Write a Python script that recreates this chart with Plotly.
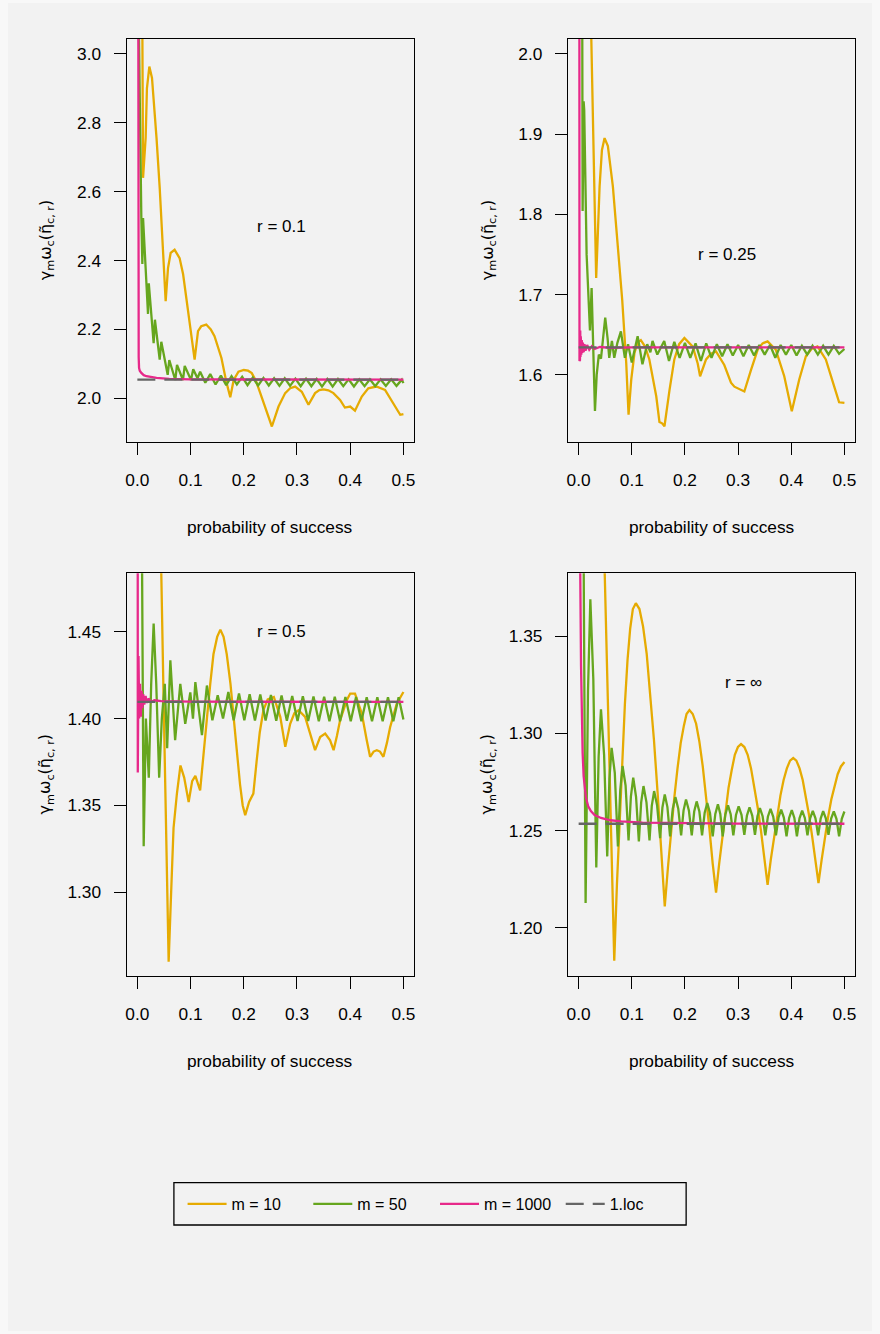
import plotly.graph_objects as go

FONT = "Liberation Sans, Arial, Helvetica, sans-serif"
TITLE_FONT = "DejaVu Sans, Liberation Sans, Arial, sans-serif"
BG = "#F2F2F2"
EDGE = "#F8F8F8"
W, H = 880, 1334

series_names = ["m = 10", "m = 50", "m = 1000", "1.loc"]
series_colors = ["#E6AB02", "#66A61E", "#E7298A", "#666666"]
panel_labels = ["r = 0.1", "r = 0.25", "r = 0.5", "r = \u221e"]

x_tick_vals = [0.0, 0.1, 0.2, 0.3, 0.4, 0.5]
y_tick_vals_r01 = [2.0, 2.2, 2.4, 2.6, 2.8, 3.0]
y_tick_vals_r025 = [1.6, 1.7, 1.8, 1.9, 2.0]
y_tick_vals_r05 = [1.30, 1.35, 1.40, 1.45]
y_tick_vals_rinf = [1.20, 1.25, 1.30, 1.35]

# ---------------- r = 0.1 ----------------
r01_m10_x = [0.001, 0.006, 0.009, 0.0107, 0.0156, 0.018, 0.0225, 0.0275, 0.032, 0.036,
             0.042, 0.0482, 0.0532, 0.0576, 0.0626, 0.070, 0.0794, 0.086, 0.092, 0.1014,
             0.1076, 0.114, 0.12, 0.1295, 0.138, 0.145, 0.158, 0.167, 0.1746, 0.181,
             0.190, 0.200, 0.208, 0.215, 0.223, 0.231, 0.2435, 0.2528, 0.2653, 0.2778,
             0.2872, 0.2966, 0.309, 0.3216, 0.334, 0.342, 0.35, 0.359, 0.3685, 0.381,
             0.390, 0.40, 0.409, 0.4218, 0.434, 0.449, 0.4655, 0.481, 0.494, 0.5]
r01_m10_y = [6.0, 3.6, 3.2, 2.64, 2.756, 2.90, 2.963, 2.93, 2.84, 2.756,
             2.611, 2.417, 2.282, 2.378, 2.422, 2.431, 2.407, 2.36, 2.291, 2.195,
             2.112, 2.195, 2.209, 2.214, 2.20, 2.18, 2.117, 2.049, 2.003, 2.053,
             2.077, 2.082, 2.080, 2.073, 2.05, 2.015, 1.956, 1.918, 1.976, 2.015,
             2.029, 2.034, 2.019, 1.981, 2.015, 2.024, 2.026, 2.023, 2.015, 1.995,
             1.973, 1.976, 1.964, 2.005, 2.029, 2.034, 2.024, 1.985, 1.952, 1.954]
r01_m50_x = [0.001, 0.003, 0.0075, 0.0094, 0.0107, 0.0150, 0.020, 0.0215, 0.0306, 0.033,
             0.042, 0.045, 0.057, 0.060, 0.0713, 0.0745, 0.0857, 0.089, 0.1008, 0.105,
             0.113, 0.118, 0.1277, 0.137, 0.147, 0.157, 0.167, 0.177, 0.187, 0.197,
             0.207, 0.217, 0.227, 0.237, 0.247, 0.257, 0.267, 0.277, 0.287, 0.297,
             0.307, 0.317, 0.327, 0.337, 0.347, 0.357, 0.367, 0.377, 0.387, 0.397,
             0.407, 0.417, 0.427, 0.437, 0.447, 0.457, 0.467, 0.477, 0.487, 0.497, 0.5]
r01_m50_y = [5.0, 3.05, 2.523, 2.39, 2.523, 2.40, 2.245, 2.334, 2.16, 2.228,
             2.112, 2.164, 2.068, 2.111, 2.053, 2.097, 2.053, 2.094, 2.053, 2.084,
             2.058, 2.077, 2.045, 2.070, 2.040, 2.066, 2.038, 2.064, 2.040, 2.062,
             2.038, 2.060, 2.037, 2.059, 2.037, 2.058, 2.036, 2.058, 2.036, 2.057,
             2.035, 2.057, 2.035, 2.056, 2.034, 2.056, 2.034, 2.056, 2.035, 2.055,
             2.034, 2.055, 2.035, 2.055, 2.035, 2.055, 2.036, 2.055, 2.036, 2.054, 2.044]
r01_m1000_x = [0.0005, 0.0012, 0.0019, 0.0025, 0.0032, 0.0045, 0.0075, 0.012, 0.017, 0.025,
               0.036, 0.06, 0.1, 0.2, 0.5]
r01_m1000_y = [5.0, 3.2, 2.35, 2.12, 2.088, 2.080, 2.0735, 2.067, 2.064, 2.061,
               2.059, 2.0565, 2.055, 2.0545, 2.054]
r01_loc = 2.054

# ---------------- r = 0.25 ----------------
r025_m10_x = [0.001, 0.012, 0.0238, 0.033, 0.0394, 0.0438, 0.0488, 0.055, 0.0644, 0.0738,
              0.082, 0.0895, 0.0939, 0.099, 0.105, 0.111, 0.117, 0.125, 0.133, 0.146,
              0.152, 0.157, 0.1615, 0.171, 0.180, 0.189, 0.199, 0.2146, 0.224, 0.2285,
              0.2397, 0.249, 0.2585, 0.274, 0.2866, 0.293, 0.3117, 0.3243, 0.3367, 0.346,
              0.3555, 0.371, 0.3868, 0.401, 0.415, 0.4275, 0.438, 0.4493, 0.465, 0.4807,
              0.49, 0.5]
r025_m10_y = [4.0, 2.6, 2.02, 1.7205, 1.8347, 1.880, 1.895, 1.885, 1.8347, 1.756,
              1.693, 1.6146, 1.550, 1.594, 1.627, 1.640, 1.643, 1.635, 1.619, 1.573,
              1.541, 1.5393, 1.5356, 1.581, 1.619, 1.638, 1.6457, 1.635, 1.614, 1.598,
              1.619, 1.626, 1.629, 1.612, 1.590, 1.585, 1.579, 1.606, 1.631, 1.639,
              1.6415, 1.631, 1.598, 1.5543, 1.594, 1.623, 1.632, 1.6353, 1.619, 1.5854,
              1.5655, 1.5647]
r025_m50_x = [0.001, 0.0056, 0.0075, 0.0094, 0.0105, 0.015, 0.0182, 0.0213, 0.0244, 0.0307,
              0.034, 0.038, 0.042, 0.046, 0.050, 0.0545, 0.0576, 0.0626, 0.067, 0.073,
              0.0795, 0.087, 0.093, 0.100, 0.111, 0.120, 0.129, 0.135, 0.139, 0.148,
              0.155, 0.161, 0.170, 0.180, 0.190, 0.200, 0.210, 0.220, 0.230, 0.240,
              0.250, 0.260, 0.270, 0.280, 0.290, 0.300, 0.310, 0.320, 0.330, 0.340,
              0.350, 0.360, 0.370, 0.380, 0.390, 0.400, 0.410, 0.420, 0.430, 0.440,
              0.450, 0.460, 0.470, 0.480, 0.490, 0.500]
r025_m50_y = [4.0, 2.05, 1.804, 1.941, 1.93, 1.75, 1.708, 1.655, 1.708, 1.5547,
              1.60, 1.625, 1.62, 1.645, 1.671, 1.645, 1.621, 1.642, 1.621, 1.64,
              1.654, 1.621, 1.638, 1.615, 1.648, 1.613, 1.638, 1.628, 1.642, 1.625,
              1.635, 1.642, 1.617, 1.641, 1.621, 1.6395, 1.621, 1.639, 1.617, 1.639,
              1.621, 1.638, 1.623, 1.638, 1.624, 1.637, 1.623, 1.637, 1.624, 1.637,
              1.625, 1.637, 1.621, 1.637, 1.625, 1.637, 1.624, 1.636, 1.625, 1.636,
              1.625, 1.636, 1.625, 1.636, 1.626, 1.632]
r025_m1000_x = [0.0005, 0.0012, 0.0016, 0.002, 0.0025, 0.003, 0.0035, 0.004, 0.005, 0.006,
                0.007, 0.008, 0.0095, 0.011, 0.013, 0.016, 0.02, 0.025, 0.03, 0.04,
                0.06, 0.1, 0.5]
r025_m1000_y = [4.0, 1.75, 1.617, 1.66, 1.618, 1.655, 1.622, 1.648, 1.625, 1.643,
                1.627, 1.64, 1.628, 1.638, 1.63, 1.637, 1.631, 1.6355, 1.632, 1.6345,
                1.6335, 1.634, 1.634]
r025_loc = 1.634

# ---------------- r = 0.5 ----------------
r05_m10_x = [0.001, 0.02, 0.035, 0.045, 0.05, 0.054, 0.0588, 0.0635, 0.068, 0.0744,
             0.081, 0.088, 0.0964, 0.103, 0.109, 0.118, 0.124, 0.131, 0.137, 0.143,
             0.15, 0.156, 0.162, 0.168, 0.175, 0.181, 0.187, 0.193, 0.198, 0.2027,
             0.21, 0.218, 0.224, 0.23, 0.237, 0.245, 0.2565, 0.2686, 0.278, 0.2872,
             0.295, 0.303, 0.3153, 0.325, 0.334, 0.3435, 0.353, 0.3622, 0.3688, 0.375,
             0.381, 0.3935, 0.40, 0.409, 0.4218, 0.4311, 0.4374, 0.444, 0.45, 0.456,
             0.4624, 0.469, 0.475, 0.4875, 0.5]
r05_m10_y = [3.0, 1.75, 1.56, 1.483, 1.40, 1.33, 1.260, 1.30, 1.337, 1.357,
             1.373, 1.366, 1.352, 1.364, 1.367, 1.3587, 1.38, 1.401, 1.42, 1.437,
             1.447, 1.4512, 1.447, 1.437, 1.42, 1.40, 1.38, 1.362, 1.35, 1.3444,
             1.352, 1.3568, 1.375, 1.392, 1.405, 1.411, 1.4124, 1.401, 1.3837, 1.397,
             1.403, 1.4048, 1.401, 1.3914, 1.3818, 1.3894, 1.3914, 1.3875, 1.3818, 1.39,
             1.399, 1.4105, 1.4144, 1.4144, 1.4029, 1.3875, 1.378, 1.381, 1.3818, 1.381,
             1.378, 1.386, 1.395, 1.4086, 1.4153]
r05_m50_x = [0.001, 0.0088, 0.0119, 0.016, 0.0215, 0.026, 0.0306, 0.0355, 0.041, 0.046,
             0.0515, 0.056, 0.062, 0.071, 0.0807, 0.090, 0.0995, 0.1045, 0.109, 0.1214,
             0.1307, 0.141, 0.151, 0.161, 0.171, 0.181, 0.191, 0.201, 0.211, 0.221,
             0.231, 0.241, 0.251, 0.261, 0.271, 0.281, 0.291, 0.301, 0.311, 0.321,
             0.331, 0.341, 0.351, 0.361, 0.371, 0.381, 0.391, 0.401, 0.411, 0.421,
             0.431, 0.441, 0.451, 0.461, 0.471, 0.481, 0.491, 0.5]
r05_m50_y = [3.0, 1.49, 1.3265, 1.40, 1.366, 1.42, 1.4547, 1.42, 1.366, 1.40,
             1.42, 1.383, 1.4335, 1.3875, 1.420, 1.397, 1.415, 1.400, 1.421, 1.3904,
             1.419, 1.399, 1.4134, 1.400, 1.4153, 1.399, 1.4145, 1.399, 1.414, 1.3988,
             1.4138, 1.3988, 1.4135, 1.3987, 1.4133, 1.3987, 1.413, 1.3986, 1.4128, 1.3986,
             1.4127, 1.3985, 1.4126, 1.3985, 1.4125, 1.3985, 1.4124, 1.3985, 1.4124, 1.3985,
             1.4123, 1.3985, 1.4123, 1.3985, 1.4122, 1.3985, 1.4122, 1.3995]
r05_m1000_x = [0.0003, 0.0008, 0.0022, 0.0035, 0.005, 0.0065, 0.008, 0.0095, 0.011, 0.013,
               0.0155, 0.018, 0.021, 0.026, 0.032, 0.045, 0.1, 0.5]
r05_m1000_y = [2.0, 1.369, 1.436, 1.40, 1.42, 1.401, 1.416, 1.406, 1.414, 1.408,
               1.413, 1.409, 1.4115, 1.4095, 1.4105, 1.41, 1.4097, 1.4096]
r05_loc = 1.4096

# ---------------- r = inf ----------------
rinf_m10_x = [0.001, 0.03, 0.049, 0.058, 0.067,
              0.072, 0.077, 0.082, 0.087, 0.092, 0.097, 0.102, 0.1076,
              0.1144, 0.1212, 0.128, 0.1348, 0.1416, 0.1484, 0.1552, 0.162,
              0.168, 0.174, 0.180, 0.186, 0.192, 0.198, 0.203, 0.2084,
              0.2146, 0.221, 0.227, 0.2335, 0.2397, 0.246, 0.2522, 0.2585,
              0.2644, 0.2703, 0.2762, 0.282, 0.2879, 0.2938, 0.2997, 0.3055,
              0.3118, 0.318, 0.3243, 0.3305, 0.3368, 0.343, 0.3493, 0.3555,
              0.3615, 0.3676, 0.3736, 0.3796, 0.3856, 0.3917, 0.3977, 0.4037,
              0.4096, 0.4156, 0.4215, 0.4274, 0.4334, 0.4393, 0.4453, 0.4512,
              0.4572, 0.4632, 0.4693, 0.4753, 0.4813, 0.4873, 0.4934, 0.5]
rinf_m10_y = [3.0, 1.62, 1.383, 1.283, 1.183,
              1.222, 1.256, 1.286, 1.315, 1.338, 1.354, 1.364, 1.367,
              1.364, 1.355, 1.341, 1.320, 1.297, 1.270, 1.242, 1.211,
              1.231, 1.250, 1.267, 1.282, 1.295, 1.304, 1.310, 1.312,
              1.310, 1.305, 1.296, 1.283, 1.268, 1.251, 1.233, 1.218,
              1.233, 1.247, 1.260, 1.272, 1.281, 1.289, 1.293, 1.2945,
              1.293, 1.289, 1.282, 1.273, 1.262, 1.250, 1.236, 1.222,
              1.235, 1.247, 1.258, 1.268, 1.276, 1.282, 1.286, 1.2873,
              1.286, 1.282, 1.276, 1.268, 1.258, 1.247, 1.236, 1.223,
              1.235, 1.247, 1.257, 1.266, 1.273, 1.279, 1.283, 1.2853]
rinf_m50_x = [0.002, 0.0094, 0.0131,
              0.0176, 0.022, 0.0276, 0.0332,
              0.0376, 0.042, 0.0479, 0.0538,
              0.0579, 0.062, 0.068, 0.0739,
              0.0783, 0.0826, 0.0883, 0.0939,
              0.0983, 0.1027, 0.108, 0.1133,
              0.1176, 0.122, 0.1276, 0.1333,
              0.1376, 0.142, 0.1476, 0.1533,
              0.1576, 0.162, 0.167, 0.172,
              0.177, 0.182, 0.1874, 0.1928,
              0.1974, 0.202, 0.2074, 0.2128,
              0.2174, 0.222, 0.2271, 0.2322,
              0.2371, 0.242, 0.2471, 0.2522,
              0.2571, 0.262, 0.2665, 0.271,
              0.276, 0.281, 0.286, 0.291,
              0.296, 0.301, 0.3064, 0.3117,
              0.3166, 0.3215, 0.3266, 0.3317,
              0.3364, 0.341, 0.3461, 0.3511,
              0.356, 0.361, 0.3661, 0.3712,
              0.3761, 0.381, 0.386, 0.3911,
              0.396, 0.401, 0.4058, 0.4106,
              0.4155, 0.4205, 0.4255, 0.4305,
              0.4355, 0.4405, 0.4455, 0.4506,
              0.4553, 0.46, 0.465, 0.47,
              0.475, 0.48, 0.485, 0.49,
              0.495, 0.5]
rinf_m50_y = [2.0, 1.39, 1.2127,
              1.322, 1.369, 1.328, 1.231,
              1.288, 1.3124, 1.289, 1.2367,
              1.2767, 1.2926, 1.2797, 1.2418,
              1.2708, 1.2832, 1.2732, 1.2449,
              1.2675, 1.2772, 1.2674, 1.2444,
              1.2644, 1.2729, 1.2645, 1.2449,
              1.2627, 1.2703, 1.263, 1.2461,
              1.2619, 1.2686, 1.2621, 1.247,
              1.2611, 1.2672, 1.2613, 1.2475,
              1.2604, 1.266, 1.2604, 1.2475,
              1.2598, 1.265, 1.2598, 1.2475,
              1.2592, 1.2642, 1.2591, 1.247,
              1.2586, 1.2635, 1.2586, 1.247,
              1.2583, 1.263, 1.2584, 1.2475,
              1.258, 1.2625, 1.2581, 1.2478,
              1.2577, 1.262, 1.2577, 1.2478,
              1.2574, 1.2616, 1.2574, 1.2475,
              1.2571, 1.2612, 1.2571, 1.2475,
              1.2568, 1.2608, 1.2567, 1.247,
              1.2565, 1.2605, 1.2565, 1.247,
              1.2563, 1.2603, 1.2565, 1.2475,
              1.2563, 1.2601, 1.2563, 1.2475,
              1.2562, 1.26, 1.2563, 1.2478,
              1.2562, 1.2598, 1.256, 1.247,
              1.256, 1.2598]
rinf_m1000_x = [0.0005, 0.0015, 0.003, 0.0045, 0.0056, 0.0075, 0.0094, 0.0115, 0.0137, 0.018,
                0.023, 0.03, 0.042, 0.06, 0.08, 0.12, 0.2, 0.3, 0.5]
rinf_m1000_y = [3.0, 1.60, 1.383, 1.335, 1.312, 1.290, 1.278, 1.271, 1.267, 1.2625,
                1.2600, 1.2580, 1.2565, 1.2553, 1.2547, 1.2541, 1.2538, 1.2536, 1.2535]
rinf_loc = 1.2535

loc_x = [0.0, 0.5]

panels = [
    dict(m10=(r01_m10_x, r01_m10_y), m50=(r01_m50_x, r01_m50_y), m1000=(r01_m1000_x, r01_m1000_y),
         loc=r01_loc, yticks=y_tick_vals_r01, yfmt=".1f", label=panel_labels[0]),
    dict(m10=(r025_m10_x, r025_m10_y), m50=(r025_m50_x, r025_m50_y), m1000=(r025_m1000_x, r025_m1000_y),
         loc=r025_loc, yticks=y_tick_vals_r025, yfmt=".1f", label=panel_labels[1]),
    dict(m10=(r05_m10_x, r05_m10_y), m50=(r05_m50_x, r05_m50_y), m1000=(r05_m1000_x, r05_m1000_y),
         loc=r05_loc, yticks=y_tick_vals_r05, yfmt=".2f", label=panel_labels[2]),
    dict(m10=(rinf_m10_x, rinf_m10_y), m50=(rinf_m50_x, rinf_m50_y), m1000=(rinf_m1000_x, rinf_m1000_y),
         loc=rinf_loc, yticks=y_tick_vals_rinf, yfmt=".2f", label=panel_labels[3]),
]

# ---------------- layout geometry (pixels) ----------------
boxes = [(126, 414, 38.7, 442.0), (568.3, 856, 38.7, 442.0),
         (126, 414, 573.3, 975.7), (568.3, 856, 573.3, 975.7)]
y_ranges = [(1.873, 3.044), (1.516, 2.019), (1.252, 1.4836), (1.1753, 1.3824)]
label_pos = [(0.27, 2.5), (0.28, 1.75), (0.27, 1.45), (0.31, 1.326)]
ytitle_x = [45, 488, 45, 488]
legend_line_start = [187, 313, 440, 566]

LW = 2.3
fig = go.Figure()
legend_keys = ["legend", "legend2", "legend3", "legend4"]

for i, p in enumerate(panels):
    xa = "x" if i == 0 else f"x{i+1}"
    ya = "y" if i == 0 else f"y{i+1}"
    show = (i == 0)
    for j, key in enumerate(["m10", "m50", "m1000"]):
        xs, ys = p[key]
        fig.add_trace(go.Scatter(x=xs, y=ys, mode="lines", name=series_names[j],
                                 line=dict(color=series_colors[j], width=LW),
                                 xaxis=xa, yaxis=ya, showlegend=show,
                                 legend=legend_keys[j], legendgroup=key, hoverinfo="skip"))
    fig.add_trace(go.Scatter(x=loc_x, y=[p["loc"], p["loc"]], mode="lines", name=series_names[3],
                             line=dict(color=series_colors[3], width=LW, dash="18px,9px"),
                             xaxis=xa, yaxis=ya, showlegend=show,
                             legend=legend_keys[3], legendgroup="loc", hoverinfo="skip"))

axis_common = dict(showline=True, linecolor="black", linewidth=1.3, mirror=True,
                   ticks="outside", ticklen=12, tickwidth=1.3, tickcolor="black",
                   showgrid=False, zeroline=False,
                   tickfont=dict(family=FONT, size=17.3, color="black"))

layout = dict(width=W, height=H, margin=dict(l=0, r=0, t=0, b=0), autosize=False,
              paper_bgcolor=EDGE, plot_bgcolor=BG, font=dict(family=FONT, color="black"))
annotations = []
ytitle = "\u03b3<sub>m</sub>\u03c9<sub>c</sub>(\u03b7\u0303<sub>c, r</sub>)"
for i, p in enumerate(panels):
    x0, x1, y0, y1 = boxes[i]
    xname = "xaxis" if i == 0 else f"xaxis{i+1}"
    yname = "yaxis" if i == 0 else f"yaxis{i+1}"
    xa = "x" if i == 0 else f"x{i+1}"
    ya = "y" if i == 0 else f"y{i+1}"
    layout[xname] = dict(axis_common, domain=[x0 / W, x1 / W], range=[-0.02, 0.52],
                         tickvals=x_tick_vals, tickformat=".1f", anchor=ya,
                         ticklabelstandoff=10)
    layout[yname] = dict(axis_common, domain=[1 - y1 / H, 1 - y0 / H], range=list(y_ranges[i]),
                         tickvals=p["yticks"], tickformat=p["yfmt"], anchor=xa,
                         ticklabelstandoff=9)
    annotations.append(dict(text=p["label"], x=label_pos[i][0], y=label_pos[i][1], xref=xa, yref=ya,
                            showarrow=False, font=dict(family=FONT, size=17, color="black")))
    annotations.append(dict(text="probability of success", x=(x0 + x1) / 2 / W, y=1 - (y1 + 85) / H,
                            xref="paper", yref="paper", showarrow=False,
                            xanchor="center", yanchor="middle",
                            font=dict(family=FONT, size=17.3, color="black")))
    annotations.append(dict(text=ytitle, x=ytitle_x[i] / W, y=1 - (y0 + y1) / 2 / H,
                            xref="paper", yref="paper", showarrow=False, textangle=-90,
                            xanchor="center", yanchor="middle",
                            font=dict(family=TITLE_FONT, size=16, color="black")))
layout["annotations"] = annotations

# figure background panel (slightly inset from page edge) and legend frame
layout["shapes"] = [
    dict(type="rect", xref="paper", yref="paper", layer="below",
         x0=7 / W, x1=(W - 7) / W, y0=3 / H, y1=1 - 3 / H,
         line=dict(width=0), fillcolor=BG),
    dict(type="rect", xref="paper", yref="paper",
         x0=173.3 / W, x1=686.7 / W, y0=1 - 1225 / H, y1=1 - 1182.7 / H,
         line=dict(color="black", width=1.3), fillcolor="rgba(0,0,0,0)"),
]
for k, key in enumerate(legend_keys):
    layout[key] = dict(orientation="h", x=(legend_line_start[k] - 5) / W, y=1 - 1204 / H,
                       xanchor="left", yanchor="middle", bgcolor="rgba(0,0,0,0)",
                       borderwidth=0, itemwidth=39,
                       font=dict(family=FONT, size=16, color="black"))

fig.update_layout(**layout)
fig.write_html("out.html")
